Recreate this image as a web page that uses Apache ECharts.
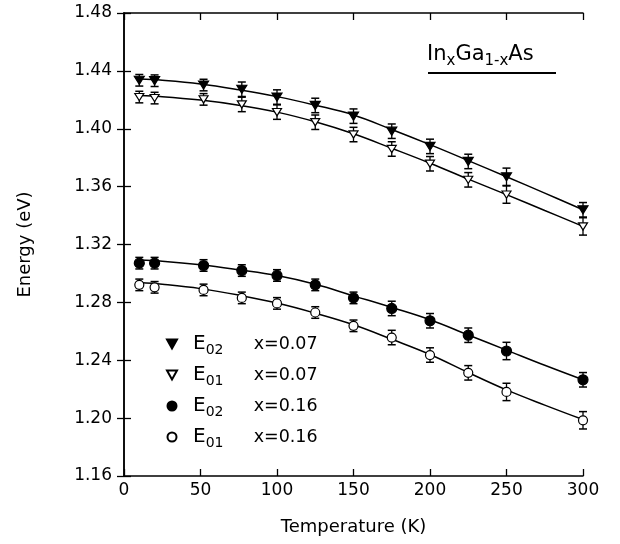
<!DOCTYPE html>
<html>
<head>
<meta charset="utf-8">
<script src="https://cdn.jsdelivr.net/npm/echarts@6/dist/echarts.min.js"></script>
<style>
html,body{margin:0;padding:0;background:#fff;}
#chart{width:620px;height:544px;}
</style>
</head>
<body>
<div id="chart"></div>
<script>
// ---- data ----
const temps = [10, 20, 52, 77, 100, 125, 150, 175, 200, 225, 250, 300];
const e02x007 = [1.4335, 1.4332, 1.4302, 1.4273, 1.4219, 1.4161, 1.4087, 1.3983, 1.3878, 1.3774, 1.3668, 1.3440];
const e01x007 = [1.4219, 1.4212, 1.4203, 1.4168, 1.4115, 1.4045, 1.3960, 1.3860, 1.3758, 1.3647, 1.3545, 1.3325];
const e02x016 = [1.3071, 1.3071, 1.3055, 1.3020, 1.2986, 1.2921, 1.2831, 1.2758, 1.2673, 1.2573, 1.2464, 1.2265];
const e01x016 = [1.2921, 1.2904, 1.2886, 1.2831, 1.2793, 1.2730, 1.2638, 1.2557, 1.2436, 1.2313, 1.2181, 1.1985];
const errE02x007 = [0.004, 0.004, 0.004, 0.005, 0.005, 0.005, 0.005, 0.005, 0.005, 0.005, 0.006, 0.005];
const errE01x007 = [0.004, 0.004, 0.004, 0.005, 0.005, 0.005, 0.005, 0.005, 0.005, 0.005, 0.006, 0.006];
const errE02x016 = [0.004, 0.004, 0.004, 0.004, 0.004, 0.004, 0.004, 0.005, 0.005, 0.005, 0.006, 0.005];
const errE01x016 = [0.004, 0.004, 0.004, 0.004, 0.004, 0.004, 0.004, 0.005, 0.005, 0.005, 0.006, 0.006];

const fitT = [10, 25, 50, 75, 100, 125, 150, 175, 200, 225, 250, 275, 300];
const fitE02x007 = [1.4343, 1.4335, 1.4310, 1.4270, 1.4222, 1.4163, 1.4095, 1.3995, 1.3890, 1.3780, 1.3668, 1.3555, 1.3440];
const fitE01x007 = [1.4230, 1.4222, 1.4198, 1.4163, 1.4115, 1.4048, 1.3965, 1.3865, 1.3762, 1.3652, 1.3545, 1.3435, 1.3325];
const fitE02x016 = [1.3093, 1.3085, 1.3060, 1.3025, 1.2985, 1.2925, 1.2845, 1.2765, 1.2680, 1.2575, 1.2470, 1.2365, 1.2265];
const fitE01x016 = [1.2937, 1.2925, 1.2895, 1.2850, 1.2795, 1.2725, 1.2645, 1.2545, 1.2440, 1.2315, 1.2195, 1.2090, 1.1990];

const seriesNames = ['E02 x=0.07', 'E01 x=0.07', 'E02 x=0.16', 'E01 x=0.16'];
const legendSub = ['02', '01', '02', '01'];
const legendX = ['x=0.07', 'x=0.07', 'x=0.16', 'x=0.16'];

const xTicks = [0, 50, 100, 150, 200, 250, 300];
const yTicks = [1.16, 1.20, 1.24, 1.28, 1.32, 1.36, 1.40, 1.44, 1.48];

// ---- chart ----
const FONT = '"DejaVu Sans", Verdana, sans-serif';
const triDown = 'path://M0,0 L10,0 L5,9 Z';
const markers = [
  {symbol: triDown, size: [10, 9], fill: '#000'},
  {symbol: triDown, size: [9, 8], fill: '#fff'},
  {symbol: 'circle', size: 10, fill: '#000'},
  {symbol: 'circle', size: 9, fill: '#fff'}
];
const pointSets = [e02x007, e01x007, e02x016, e01x016];
const errSets = [errE02x007, errE01x007, errE02x016, errE01x016];
const fitSets = [fitE02x007, fitE01x007, fitE02x016, fitE01x016];

function pairs(xs, ys) { return xs.map((x, i) => [x, ys[i]]); }

const series = [];
fitSets.forEach((f) => {
  series.push({
    type: 'line', data: pairs(fitT, f), smooth: 0.4, showSymbol: false, symbol: 'none',
    lineStyle: {color: '#000', width: 1.5}, silent: true, z: 2
  });
});
pointSets.forEach((p, k) => {
  series.push({
    type: 'custom', z: 3, silent: true,
    data: temps.map((t, i) => [t, p[i], errSets[k][i]]),
    renderItem: function (params, api) {
      const x = api.value(0), y = api.value(1), e = api.value(2);
      const top = api.coord([x, y + e]);
      const bot = api.coord([x, y - e]);
      const hw = 4;
      return {
        type: 'group',
        children: [
          {type: 'line', shape: {x1: top[0], y1: top[1], x2: bot[0], y2: bot[1]}, style: {stroke: '#000', lineWidth: 1.3}},
          {type: 'line', shape: {x1: top[0] - hw, y1: top[1], x2: top[0] + hw, y2: top[1]}, style: {stroke: '#000', lineWidth: 1.5}},
          {type: 'line', shape: {x1: bot[0] - hw, y1: bot[1], x2: bot[0] + hw, y2: bot[1]}, style: {stroke: '#000', lineWidth: 1.5}}
        ]
      };
    }
  });
});
pointSets.forEach((p, k) => {
  const m = markers[k];
  series.push({
    name: seriesNames[k], type: 'scatter', z: 5,
    data: pairs(temps, p),
    symbol: m.symbol, symbolSize: m.size, symbolKeepAspect: true,
    itemStyle: {color: m.fill, borderColor: '#000', borderWidth: 1.2, opacity: 1}
  });
});

const axisText = {color: '#000', fontFamily: FONT, fontSize: 17};
const tickStyle = {inside: true, length: 7, lineStyle: {color: '#000', width: 1.3}};
const option = {
  animation: false,
  backgroundColor: '#fff',
  grid: {left: 124, right: 37, top: 13, bottom: 68},
  xAxis: [{
    type: 'value', min: 0, max: 300, interval: 50,
    name: 'Temperature (K)', nameLocation: 'middle', nameGap: 42,
    nameTextStyle: {color: '#000', fontFamily: FONT, fontSize: 18},
    axisLine: {lineStyle: {color: '#000', width: 1.5}},
    axisTick: tickStyle,
    axisLabel: Object.assign({margin: 6, formatter: (v) => xTicks.includes(v) ? String(v) : ''}, axisText),
    splitLine: {show: false}
  }, {
    type: 'value', min: 0, max: 300, interval: 50, position: 'top',
    axisLine: {lineStyle: {color: '#000', width: 1.5}},
    axisTick: tickStyle,
    axisLabel: {show: false}, splitLine: {show: false}
  }],
  yAxis: [{
    type: 'value', min: 1.16, max: 1.48, interval: 0.04,
    name: 'Energy (eV)', nameLocation: 'middle', nameGap: 90, nameRotate: 90,
    nameTextStyle: {color: '#000', fontFamily: FONT, fontSize: 18},
    axisLine: {lineStyle: {color: '#000', width: 1.5}},
    axisTick: tickStyle,
    axisLabel: Object.assign({margin: 12, formatter: (v) => {
      const t = yTicks.find((q) => Math.abs(q - v) < 1e-6);
      return t === undefined ? '' : t.toFixed(2);
    }}, axisText),
    splitLine: {show: false}
  }, {
    type: 'value', min: 1.16, max: 1.48, interval: 0.04, position: 'right',
    axisLine: {lineStyle: {color: '#000', width: 1.5}},
    axisTick: tickStyle,
    axisLabel: {show: false}, splitLine: {show: false}
  }],
  legend: {
    orient: 'vertical', left: 161, top: 329,
    itemWidth: 10, itemHeight: 9, itemGap: 8,
    data: seriesNames.map((n, k) => ({name: n, icon: markers[k].symbol === 'circle' ? 'circle' : triDown})),
    formatter: function (name) {
      const k = seriesNames.indexOf(name);
      return '{e|E}{s|' + legendSub[k] + '}{x|' + legendX[k] + '}';
    },
    textStyle: {
      color: '#000', fontFamily: FONT,
      rich: {
        e: {fontSize: 20, fontFamily: FONT, color: '#000', lineHeight: 26, verticalAlign: 'middle', padding: [0, 0, 0, 11]},
        s: {fontSize: 14, fontFamily: FONT, color: '#000', lineHeight: 10, verticalAlign: 'bottom', width: 48},
        x: {fontSize: 17.5, fontFamily: FONT, color: '#000', lineHeight: 26, verticalAlign: 'middle'}
      }
    }
  },
  graphic: [{
    type: 'text', left: 427, top: 44, silent: true,
    style: {
      text: '{n|In}{s|x}{n|Ga}{s|1-x}{n|As}',
      rich: {
        n: {fontSize: 21, fontFamily: FONT, fill: '#000', lineHeight: 28, verticalAlign: 'middle'},
        s: {fontSize: 15, fontFamily: FONT, fill: '#000', lineHeight: 8, verticalAlign: 'bottom'}
      }
    }
  }, {
    type: 'line', silent: true,
    shape: {x1: 428, y1: 73, x2: 556, y2: 73},
    style: {stroke: '#000', lineWidth: 2}
  }],
  series: series
};

const chart = echarts.init(document.getElementById('chart'), null, {renderer: 'canvas'});
chart.setOption(option);
</script>
</body>
</html>
